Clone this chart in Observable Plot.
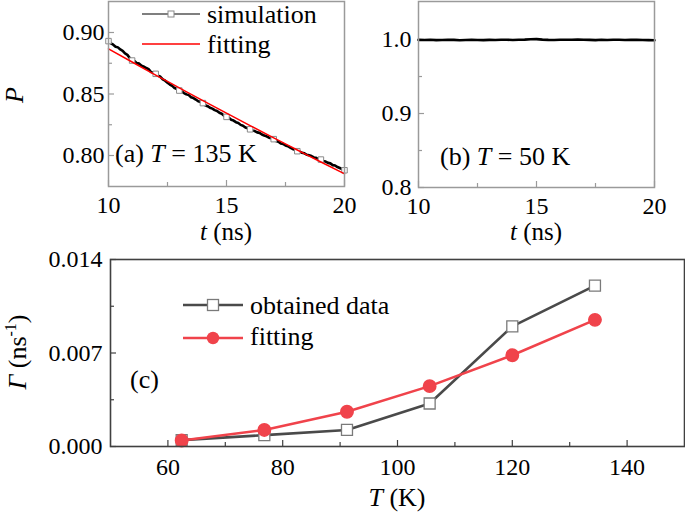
<!DOCTYPE html>
<html>
<head>
<meta charset="utf-8">
<script src="https://cdn.jsdelivr.net/npm/d3@7"></script>
<script src="https://cdn.jsdelivr.net/npm/@observablehq/plot@0.6"></script>
<style>
  body { margin: 0; background: #fff; }
  #wrap { position: relative; width: 685px; height: 515px; overflow: hidden; background: #fff;
          font-family: 'Liberation Serif', 'Tinos', 'Times New Roman', Times, 'DejaVu Serif', serif; }
  #wrap > svg { position: absolute; }
  #wrap text { font-family: 'Liberation Serif', 'Tinos', 'Times New Roman', Times, 'DejaVu Serif', serif; }
</style>
</head>
<body>
<div id="wrap"></div>
<script>
// ---------- Data ----------
// (a) T = 135 K : simulated polarization, sampled every 0.1 ns from t = 10 ns
const simStart = 10, simStep = 0.1;
const simP = [
  0.8930,0.8912,0.8901,0.8885,0.8879,0.8862,0.8851,0.8830,0.8818,0.8792,
  0.8772,0.8768,0.8751,0.8747,0.8730,0.8722,0.8711,0.8702,0.8679,0.8675,
  0.8664,0.8649,0.8640,0.8619,0.8608,0.8591,0.8577,0.8566,0.8548,0.8541,
  0.8528,0.8521,0.8508,0.8497,0.8491,0.8474,0.8467,0.8455,0.8441,0.8436,
  0.8426,0.8409,0.8401,0.8388,0.8381,0.8369,0.8362,0.8347,0.8339,0.8322,
  0.8314,0.8306,0.8290,0.8284,0.8271,0.8265,0.8249,0.8242,0.8228,0.8221,
  0.8213,0.8204,0.8199,0.8188,0.8184,0.8171,0.8163,0.8156,0.8145,0.8141,
  0.8133,0.8118,0.8112,0.8098,0.8094,0.8081,0.8076,0.8064,0.8053,0.8047,
  0.8035,0.8031,0.8022,0.8018,0.8006,0.8002,0.7996,0.7984,0.7981,0.7972,
  0.7967,0.7955,0.7951,0.7940,0.7936,0.7922,0.7919,0.7906,0.7898,0.7889,
  0.7880
];
// (a) fitting curve
const fitT = [10, 11, 12, 13, 14, 15, 16, 17, 18, 19, 20];
const fitP = [0.8867,0.8760,0.8654,0.8550,0.8446,0.8344,0.8243,0.8143,0.8045,0.7947,0.7851];
// (b) T = 50 K : sampled every 0.25 ns from t = 10 ns
const lowStart = 10, lowStep = 0.25;
const lowP = [
  0.9995,0.9993,0.9996,0.9992,0.9994,0.9997,0.9995,0.9991,0.9993,0.9996,
  0.9994,0.9992,0.9995,0.9993,0.9996,0.9998,0.9994,0.9997,0.9999,1.0003,
  1.0006,0.9999,0.9995,0.9993,0.9996,0.9998,0.9997,0.9999,0.9998,0.9995,
  0.9992,0.9996,0.9994,0.9998,0.9996,0.9993,0.9995,0.9997,0.9994,0.9992,
  0.9990
];
// (c) decay rate vs temperature
const tempK    = [62.4, 76.8, 91.2, 105.6, 120.0, 134.4];
const gammaObt = [0.00048, 0.00085, 0.00124, 0.00322, 0.00899, 0.01205];
const gammaFit = [0.00045, 0.00124, 0.00260, 0.00452, 0.00683, 0.00948];

// ticks
const tTicks = [10, 15, 20], tMinor = [12.5, 17.5];
const pTicksA = [0.80, 0.85, 0.90], pMinorA = [0.825, 0.875];
const pTicksB = [0.8, 0.9, 1.0], pMinorB = [0.85, 0.95];
const kTicks = [60, 80, 100, 120, 140], kMinor = [70, 90, 110, 130];
const gTicks = [0.000, 0.007, 0.014], gMinor = [0.0035, 0.0105];

// ---------- Build tables ----------
const sim = simP.map((p, i) => ({t: simStart + i * simStep, p}));
const simMarks = sim.filter((d, i) => i % 10 === 0);
const fit = fitT.map((t, i) => ({t, p: fitP[i]}));
const low = lowP.map((p, i) => ({t: lowStart + i * lowStep, p}));
const obt = tempK.map((T, i) => ({T, g: gammaObt[i]}));
const gfit = tempK.map((T, i) => ({T, g: gammaFit[i]}));

const FONT = "'Liberation Serif', 'Tinos', 'Times New Roman', Times, 'DejaVu Serif', serif";
const wrap = document.getElementById("wrap");
const baseStyle = {fontFamily: FONT, fontSize: "24px", color: "#000", background: "transparent", overflow: "visible"};

function inwardAxes(xT, xM, yT, yM, col, xFmt, yFmt, xPad, yPad) {
  return [
    Plot.axisX({ticks: xT, anchor: "bottom", tickSize: 6, dy: -6, fill: "none", stroke: col, strokeWidth: 1.2, label: null}),
    Plot.axisX({ticks: xM, anchor: "bottom", tickSize: 4, dy: -4, fill: "none", stroke: col, strokeWidth: 1.2, label: null}),
    Plot.axisX({ticks: xT, anchor: "bottom", tickSize: 0, tickPadding: xPad, tickFormat: xFmt, fill: "#000", label: null}),
    Plot.axisY({ticks: yT, anchor: "left", tickSize: 6, dx: 6, fill: "none", stroke: col, strokeWidth: 1.2, label: null}),
    Plot.axisY({ticks: yM, anchor: "left", tickSize: 4, dx: 4, fill: "none", stroke: col, strokeWidth: 1.2, label: null}),
    Plot.axisY({ticks: yT, anchor: "left", tickSize: 0, tickPadding: yPad, tickFormat: yFmt, fill: "#000", label: null})
  ];
}

// ---------- Panel (a) ----------
const plotA = Plot.plot({
  width: 350, height: 225,
  marginLeft: 108, marginRight: 6, marginTop: 1, marginBottom: 39,
  style: baseStyle,
  x: {domain: [10, 20]},
  y: {domain: [0.7748, 0.9252]},
  marks: [
    ...inwardAxes(tTicks, tMinor, pTicksA, pMinorA, "#9a9a9a", d3.format("d"), d3.format(".2f"), 9, 4),
    Plot.line(sim, {x: "t", y: "p", stroke: "#000", strokeWidth: 2.6}),
    Plot.dot(simMarks, {x: "t", y: "p", symbol: "square", r: 3.1, fill: "#fff", stroke: "#8a8a8a", strokeWidth: 1}),
    Plot.line(fit, {x: "t", y: "p", stroke: "#ff0000", strokeWidth: 1.5, curve: "natural"}),
    Plot.frame({stroke: "#9a9a9a", strokeWidth: 1.5})
  ]
});
plotA.style.left = "0px"; plotA.style.top = "0px";
wrap.appendChild(plotA);

// ---------- Panel (b) ----------
const plotB = Plot.plot({
  width: 310, height: 225,
  marginLeft: 68, marginRight: 6, marginTop: 1, marginBottom: 38,
  style: baseStyle,
  x: {domain: [10, 20]},
  y: {domain: [0.8, 1.0514]},
  marks: [
    ...inwardAxes(tTicks, tMinor, pTicksB, pMinorB, "#9a9a9a", d3.format("d"), d3.format(".1f"), 9, 7),
    Plot.line(low, {x: "t", y: "p", stroke: "#000", strokeWidth: 2.6}),
    Plot.frame({stroke: "#9a9a9a", strokeWidth: 1.5})
  ]
});
plotB.style.left = "350px"; plotB.style.top = "0px";
wrap.appendChild(plotB);

// ---------- Panel (c) ----------
const plotC = Plot.plot({
  width: 685, height: 275,
  marginLeft: 110, marginRight: 1, marginTop: 19, marginBottom: 69,
  style: baseStyle,
  x: {domain: [50, 150]},
  y: {domain: [0, 0.014]},
  marks: [
    ...inwardAxes(kTicks, kMinor, gTicks, gMinor, "#404040", d3.format("d"), d3.format(".3f"), 11, 8),
    Plot.line(obt, {x: "T", y: "g", stroke: "#4a4a4a", strokeWidth: 2.6}),
    Plot.dot(obt, {x: "T", y: "g", symbol: "square", r: 6.2, fill: "#fff", stroke: "#7a7a7a", strokeWidth: 1.3}),
    Plot.line(gfit, {x: "T", y: "g", stroke: "#f0434b", strokeWidth: 2.6}),
    Plot.dot(gfit, {x: "T", y: "g", r: 6.2, fill: "#f0434b", stroke: "#f0434b"}),
    Plot.frame({stroke: "#404040", strokeWidth: 1.6})
  ]
});
plotC.style.left = "0px"; plotC.style.top = "240px";
wrap.appendChild(plotC);

// ---------- Text overlay: titles, annotations, legends ----------
const ov = d3.select(wrap).append("svg")
  .attr("width", 685).attr("height", 515)
  .style("left", "0px").style("top", "0px")
  .style("font-family", FONT).style("pointer-events", "none");

function txt(x, y, parts, o = {}) {
  const t = ov.append("text").attr("x", x).attr("y", y)
    .attr("font-size", o.size || 26).attr("text-anchor", o.anchor || "start").attr("fill", "#000");
  if (o.rotate) t.attr("transform", `rotate(-90 ${x} ${y})`);
  parts.forEach(p => {
    const s = t.append("tspan").text(p.t);
    if (p.i) s.attr("font-style", "italic");
    if (p.dy) s.attr("dy", p.dy);
    if (p.size) s.attr("font-size", p.size);
  });
}

// axis titles
txt(23, 95, [{t: "P", i: true}], {rotate: true, anchor: "middle"});
txt(226, 240, [{t: "t", i: true}, {t: " (ns)"}], {anchor: "middle", size: 25});
txt(536, 240, [{t: "t", i: true}, {t: " (ns)"}], {anchor: "middle", size: 25});
txt(26, 352, [{t: "Γ", i: true}, {t: " (ns"}, {t: "-1", size: 16, dy: -10}, {t: ")", dy: 10}], {rotate: true, anchor: "middle"});
txt(397, 506, [{t: "T", i: true}, {t: " (K)"}], {anchor: "middle"});

// panel annotations
txt(115, 162, [{t: "(a) "}, {t: "T", i: true}, {t: " = 135 K"}]);
txt(440, 165, [{t: "(b) "}, {t: "T", i: true}, {t: " = 50 K"}]);
txt(130, 388, [{t: "(c)"}]);

// legend (a)
ov.append("line").attr("x1", 142).attr("x2", 200).attr("y1", 14).attr("y2", 14).attr("stroke", "#555").attr("stroke-width", 1.5);
ov.append("rect").attr("x", 168).attr("y", 11).attr("width", 6).attr("height", 6).attr("fill", "#fff").attr("stroke", "#8a8a8a");
txt(207, 23, [{t: "simulation"}]);
ov.append("line").attr("x1", 142).attr("x2", 200).attr("y1", 44).attr("y2", 44).attr("stroke", "#ff0000").attr("stroke-width", 1.5);
txt(207, 53, [{t: "fitting"}]);

// legend (c)
ov.append("line").attr("x1", 183).attr("x2", 243).attr("y1", 305).attr("y2", 305).attr("stroke", "#4a4a4a").attr("stroke-width", 2.6);
ov.append("rect").attr("x", 207.5).attr("y", 299.5).attr("width", 11).attr("height", 11).attr("fill", "#fff").attr("stroke", "#7a7a7a").attr("stroke-width", 1.3);
txt(250, 314, [{t: "obtained data"}]);
ov.append("line").attr("x1", 183).attr("x2", 243).attr("y1", 338).attr("y2", 338).attr("stroke", "#f0434b").attr("stroke-width", 2.6);
ov.append("circle").attr("cx", 213).attr("cy", 338).attr("r", 6.2).attr("fill", "#f0434b");
txt(250, 345, [{t: "fitting"}]);
</script>
</body>
</html>
